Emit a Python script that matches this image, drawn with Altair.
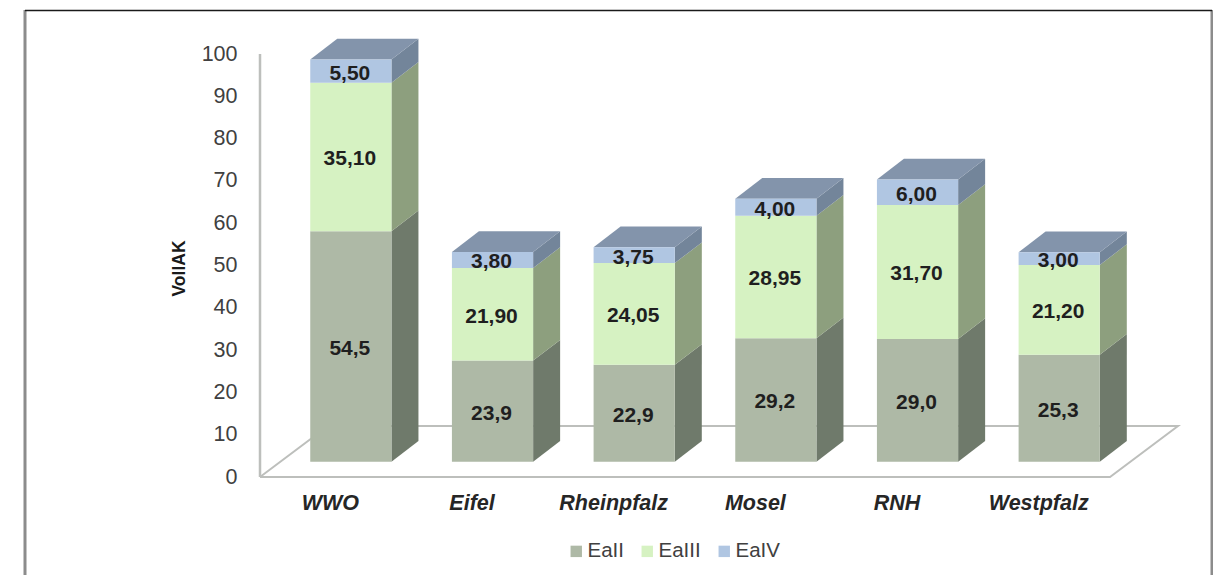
import altair as alt
import pandas as pd

categories = ["WWO", "Eifel", "Rheinpfalz", "Mosel", "RNH", "Westpfalz"]
eaii = [54.5, 23.9, 22.9, 29.2, 29.0, 25.3]
eaiii = [35.10, 21.90, 24.05, 28.95, 31.70, 21.20]
eaiv = [5.50, 3.80, 3.75, 4.00, 6.00, 3.00]
labels_ii = ["54,5", "23,9", "22,9", "29,2", "29,0", "25,3"]
labels_iii = ["35,10", "21,90", "24,05", "28,95", "31,70", "21,20"]
labels_iv = ["5,50", "3,80", "3,75", "4,00", "6,00", "3,00"]
series_names = ["EaII", "EaIII", "EaIV"]
front_colors = ["#AEB9A6", "#D6F2C2", "#B0C6E2"]
side_colors = ["#6F7A6B", "#8D9F7E", "#73859A"]
top_color = "#8394AB"

# layout of the pseudo-3D projection, in scale units
STEP = 141.67
PX_Y = 4.23
HALF = 40.6 / STEP
DX = 27 / STEP
DY = 20.7 / PX_Y
BASE = 15.3 / PX_Y
PLOT_W, PLOT_H = 918, 423
X_DOMAIN = [(260 - 350.85) / STEP, (1178 - 350.85) / STEP]

x_scale = alt.Scale(domain=X_DOMAIN, nice=False, zero=False)
y_scale = alt.Scale(domain=[0, 100], nice=False)

fronts, sides, tops, texts = [], [], [], []
stack = list(zip(eaii, eaiii, eaiv))
text_rows = list(zip(labels_ii, labels_iii, labels_iv))
for i, vals in enumerate(stack):
    lo = BASE
    L, R = i - HALF, i + HALF
    for s, v in enumerate(vals):
        hi = lo + v
        fronts.append(dict(x=L, x2=R, y=lo, y2=hi, series=series_names[s]))
        key = f"{i}-{s}"
        sides.append(dict(key=key, x=R, y=lo, y2=hi, fill=side_colors[s]))
        sides.append(dict(key=key, x=R + DX, y=lo + DY, y2=hi + DY, fill=side_colors[s]))
        texts.append(dict(x=i, y=(lo + hi) / 2, t=text_rows[i][s]))
        lo = hi
    T = lo
    for px, a, b in [(L, T, T), (L + DX, T, T + DY), (R, T, T + DY), (R + DX, T + DY, T + DY)]:
        tops.append(dict(key=str(i), x=px, y=a, y2=b))

floor = [
    dict(o=0, x=X_DOMAIN[0], y=0),
    dict(o=1, x=(1110 - 350.85) / STEP, y=0),
    dict(o=2, x=X_DOMAIN[1], y=51 / PX_Y),
    dict(o=3, x=(328 - 350.85) / STEP, y=51 / PX_Y),
    dict(o=4, x=X_DOMAIN[0], y=0),
]
floor_df = pd.DataFrame(floor)

X = alt.X("x:Q", scale=x_scale, title=None)
Y = alt.Y("y:Q", scale=y_scale, title="VollAK", stack=None)

floor_layer = alt.Chart(floor_df).mark_line(color="#BDBFBC", strokeWidth=2).encode(
    x=alt.X("x:Q", scale=x_scale, title=None,
            axis=alt.Axis(values=list(range(6)), domain=False, ticks=False, grid=False,
                          labelExpr="['WWO','Eifel','Rheinpfalz','Mosel','RNH','Westpfalz'][datum.value]",
                          labelFont="Liberation Sans", labelFontSize=21.5, labelFontWeight="bold",
                          labelFontStyle="italic", labelColor="#262626", labelPadding=15,
                          labelOffset=-21, labelOverlap=False, labelFlush=False)),
    y=alt.Y("y:Q", scale=y_scale, title="VollAK",
            axis=alt.Axis(values=list(range(0, 101, 10)), domain=False, ticks=False, grid=False,
                          titleFont="Liberation Sans", titleFontSize=17.5, titleY=214,
                          titleFontWeight="bold", titleColor="#1a1a1a", titlePadding=13,
                          labelFont="Liberation Sans", labelFontSize=21.5, labelColor="#404040",
                          labelPadding=23)),
    order="o:Q",
)

y_axis_line = alt.Chart(pd.DataFrame({"x": [X_DOMAIN[0]], "y": [0], "y2": [100]})).mark_rule(
    color="#BDBFBC", strokeWidth=2.5).encode(x=X, y=Y, y2="y2:Q")

side_layer = alt.Chart(pd.DataFrame(sides)).mark_area(interpolate="linear", orient="vertical").encode(
    x=X, y=Y, y2="y2:Q", detail="key:N", fill=alt.Fill("fill:N", scale=None))

top_layer = alt.Chart(pd.DataFrame(tops)).mark_area(interpolate="linear", orient="vertical", color=top_color).encode(
    x=X, y=Y, y2="y2:Q", detail="key:N")

front_layer = alt.Chart(pd.DataFrame(fronts)).mark_rect().encode(
    x=X, x2="x2:Q", y=Y, y2="y2:Q",
    color=alt.Color("series:N",
                    scale=alt.Scale(domain=series_names, range=front_colors),
                    legend=alt.Legend(orient="none", legendX=306, legendY=487, direction="horizontal",
                                      title=None, symbolType="square", symbolSize=130, symbolStrokeWidth=0,
                                      labelFont="Liberation Sans", labelFontSize=20.5, labelColor="#404040",
                                      columnPadding=13, labelOffset=1)),
)

text_layer = alt.Chart(pd.DataFrame(texts)).mark_text(
    font="Liberation Sans", fontSize=21, fontWeight="bold", color="#1f1f1f", dy=2.5, dx=-1).encode(
    x=X, y=Y, text="t:N")

frame_df = pd.DataFrame({"a": [0]})
frame_left = alt.Chart(frame_df).mark_rule(color="#8c8c8c", strokeWidth=3).encode(
    x=alt.value(-235), y=alt.value(-44), y2=alt.value(529))
frame_right = alt.Chart(frame_df).mark_rule(color="#8c8c8c", strokeWidth=3).encode(
    x=alt.value(952), y=alt.value(-44), y2=alt.value(529))
frame_top = alt.Chart(frame_df).mark_rule(color="#1a1a1a", strokeWidth=1.5).encode(
    y=alt.value(-43.5), x=alt.value(-235), x2=alt.value(952))

chart = alt.layer(
    frame_left, frame_right, frame_top,
    floor_layer, y_axis_line, side_layer, top_layer, front_layer, text_layer,
).properties(
    width=PLOT_W, height=PLOT_H,
    padding={"left": 252, "top": 46, "right": 35, "bottom": 98},
    autosize=alt.AutoSizeParams(type="none"),
    background="white",
).configure_view(stroke=None)

chart.save("out.html", embed_options={"renderer": "svg", "actions": False})
